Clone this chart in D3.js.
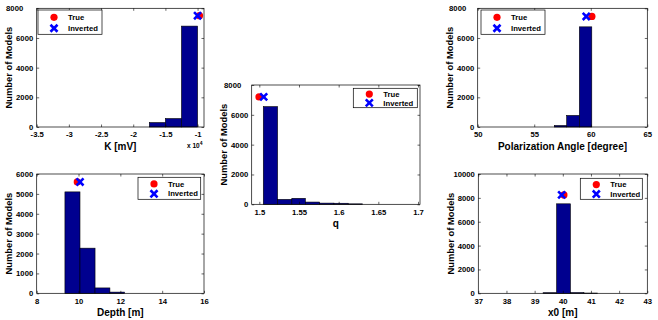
<!DOCTYPE html>
<html>
<head>
<meta charset="utf-8">
<script src="https://cdn.jsdelivr.net/npm/d3@7"></script>
<style>
  body { margin: 0; background: #fff; }
  svg { font-family: "Liberation Sans", Arial, sans-serif; font-weight: bold; }
</style>
</head>
<body>
<svg id="chart" width="658" height="320"></svg>
<script>
"use strict";

// histogram bin edges and counts
var kEdges = [-1.75, -1.5, -1.25, -1.0];          // x 10^4
var kCounts = [300, 570, 6800];
var kTrue = [-0.97, 7500], kInverted = [-1.0, 7500];
var kTicks = [-3.5, -3, -2.5, -2, -1.5, -1];

var depthEdges = [9.35, 10.07, 10.79, 11.5, 12.2];
var depthCounts = [5100, 2270, 270, 60];
var depthTrue = [9.94, 5600], depthInverted = [10.07, 5600];
var depthTicks = [8, 10, 12, 14, 16];

var qEdges = [1.505, 1.523, 1.541, 1.558, 1.576, 1.594, 1.612, 1.63];
var qCounts = [6550, 330, 400, 150, 80, 70, 30];
var qTrue = [1.4996, 7200], qInverted = [1.5055, 7200];
var qTicks = [1.5, 1.55, 1.6, 1.65, 1.7];

var angleEdges = [56.78, 57.87, 58.99, 60.09];
var angleCounts = [100, 780, 6750];
var angleTrue = [60.1, 7450], angleInverted = [59.6, 7450];
var angleTicks = [50, 55, 60, 65];

var x0Edges = [39.3, 39.78, 40.27, 40.75, 41.23];
var x0Counts = [50, 7500, 60, 20];
var x0True = [40.04, 8250], x0Inverted = [39.96, 8250];
var x0Ticks = [37, 38, 39, 40, 41, 42, 43];

var yTicks8000 = [0, 2000, 4000, 6000, 8000];
var yTicks6000 = [0, 1000, 2000, 3000, 4000, 5000, 6000];
var yTicks10000 = [0, 2000, 4000, 6000, 8000, 10000];

var panels = [
  { box: [36.7, 204, 8.3, 127], xd: [-3.5, -0.9], yd: [0, 8000], xt: kTicks, yt: yTicks8000,
    edges: kEdges, counts: kCounts, tru: kTrue, inv: kInverted, label: "K [mV]",
    legend: [38, 102, 10, 34.3], mult: true, topShift: 10 },
  { box: [36.7, 204, 174, 293.3], xd: [8, 16], yd: [0, 6000], xt: depthTicks, yt: yTicks6000,
    edges: depthEdges, counts: depthCounts, tru: depthTrue, inv: depthInverted, label: "Depth [m]",
    legend: [138, 200.7, 177.3, 199.3], topShift: 0 },
  { box: [251.7, 420, 85, 204.3], xd: [1.4904, 1.7025], yd: [0, 8000], xt: qTicks, yt: yTicks8000,
    edges: qEdges, counts: qCounts, tru: qTrue, inv: qInverted, label: "q",
    legend: [353.3, 417.3, 88.3, 107.7], topShift: 7 },
  { box: [477.7, 647.3, 8.3, 127], xd: [50, 65], yd: [0, 8000], xt: angleTicks, yt: yTicks8000,
    edges: angleEdges, counts: angleCounts, tru: angleTrue, inv: angleInverted, label: "Polarization Angle [degree]",
    legend: [481, 545, 10, 34.3], topShift: 8 },
  { box: [478.3, 647.3, 174, 293.3], xd: [37, 43], yd: [0, 10000], xt: x0Ticks, yt: yTicks10000,
    edges: x0Edges, counts: x0Counts, tru: x0True, inv: x0Inverted, label: "x0 [m]",
    legend: [580.3, 642.3, 178.3, 199.3], topShift: 0 }
];

var svg = d3.select("#chart");

function drawX(g, x, y, s) {
  g.append("path")
    .attr("d", d3.symbol(d3.symbolX, s))
    .attr("transform", "translate(" + x + "," + y + ")")
    .attr("stroke", "#0000ff")
    .attr("stroke-width", 2.6)
    .attr("fill", "none");
}

panels.forEach(function(p) {
  var l = p.box[0], r = p.box[1], t = p.box[2], b = p.box[3];
  var x = d3.scaleLinear().domain(p.xd).range([l, r]);
  var y = d3.scaleLinear().domain(p.yd).range([b, t]);
  var g = svg.append("g");

  // bars
  var bins = p.counts.map(function(c, i) { return { x0: p.edges[i], x1: p.edges[i + 1], n: c }; });
  g.selectAll("rect.bar").data(bins).enter().append("rect")
    .attr("class", "bar")
    .attr("x", function(d) { return x(d.x0); })
    .attr("width", function(d) { return x(d.x1) - x(d.x0); })
    .attr("y", function(d) { return y(d.n); })
    .attr("height", function(d) { return b - y(d.n); })
    .attr("fill", "#00008f")
    .attr("stroke", "#000")
    .attr("stroke-width", 0.6);

  // axes, ticks inward on all four sides
  var fmt = function(d) { return String(d); };
  var ax = g.append("g").attr("transform", "translate(0," + b + ")")
    .call(d3.axisBottom(x).tickValues(p.xt).tickFormat(fmt).tickSizeInner(-2.5).tickSizeOuter(0).tickPadding(5));
  var ay = g.append("g").attr("transform", "translate(" + l + ",0)")
    .call(d3.axisLeft(y).tickValues(p.yt).tickFormat(fmt).tickSizeInner(-2.5).tickSizeOuter(0).tickPadding(3.5));
  g.append("g").attr("transform", "translate(0," + t + ")")
    .call(d3.axisTop(x).tickValues(p.xt).tickFormat("").tickSizeInner(-2.5).tickSizeOuter(0));
  g.append("g").attr("transform", "translate(" + r + ",0)")
    .call(d3.axisRight(y).tickValues(p.yt).tickFormat("").tickSizeInner(-2.5).tickSizeOuter(0));
  g.selectAll(".domain").remove();
  g.selectAll(".tick line").attr("stroke", "#000").attr("stroke-width", 0.6);
  g.selectAll(".tick text").attr("font-size", 7.7).attr("font-weight", "bold")
    .attr("font-family", "Liberation Sans, Arial, sans-serif").attr("fill", "#000");
  ax.selectAll(".tick text").attr("dy", "0.71em");
  // the top y label sits a little further left in the original
  ay.selectAll(".tick text").filter(function(d) { return d === p.yd[1]; })
    .attr("x", -3.5 - p.topShift);

  g.append("rect")
    .attr("x", l).attr("y", t).attr("width", r - l).attr("height", b - t)
    .attr("fill", "none").attr("stroke", "#000").attr("stroke-width", 0.7);

  // markers
  g.append("circle")
    .attr("cx", x(p.tru[0])).attr("cy", y(p.tru[1])).attr("r", 3.6)
    .attr("fill", "#ff0000");
  drawX(g, x(p.inv[0]), y(p.inv[1]), 34);

  // labels
  g.append("text")
    .attr("x", (l + r) / 2).attr("y", b + 23)
    .attr("text-anchor", "middle").attr("font-size", 10)
    .text(p.label);
  g.append("text")
    .attr("transform", "translate(" + (l - 28) + "," + ((t + b) / 2) + ") rotate(-90)")
    .attr("text-anchor", "middle").attr("dy", "0.35em").attr("font-size", 9.4)
    .text("Number of Models");

  if (p.mult) {
    var m = g.append("text").attr("x", r - 17).attr("y", b + 21).attr("font-size", 6.5);
    m.append("tspan").text("x 10");
    m.append("tspan").attr("dy", -3).attr("font-size", 5).text("4");
  }

  // legend
  var lg = p.legend;
  g.append("rect")
    .attr("x", lg[0]).attr("y", lg[2]).attr("width", lg[1] - lg[0]).attr("height", lg[3] - lg[2])
    .attr("fill", "#fff").attr("stroke", "#000").attr("stroke-width", 0.7);
  var mx = lg[0] + 16, tx = lg[0] + 30;
  var r1 = lg[2] + (lg[3] - lg[2]) * 0.3, r2 = lg[2] + (lg[3] - lg[2]) * 0.75;
  g.append("circle").attr("cx", mx).attr("cy", r1).attr("r", 3.6).attr("fill", "#ff0000");
  drawX(g, mx, r2, 34);
  g.append("text").attr("x", tx).attr("y", r1).attr("dy", "0.35em").attr("font-size", 7.7).text("True");
  g.append("text").attr("x", tx).attr("y", r2).attr("dy", "0.35em").attr("font-size", 7.7).text("Inverted");
});
</script>
</body>
</html>
